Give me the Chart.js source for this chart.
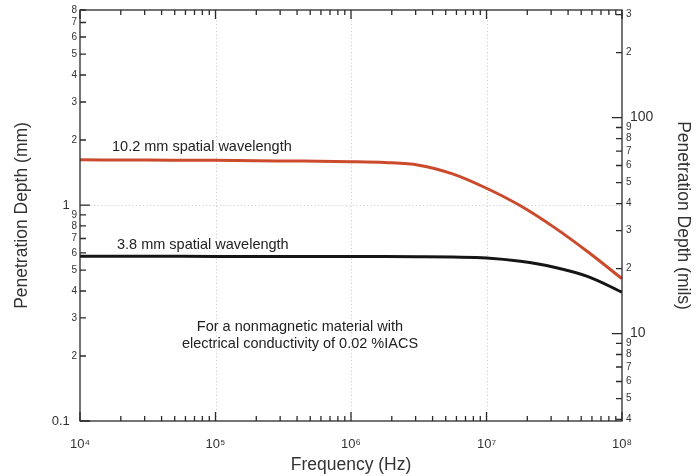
<!DOCTYPE html>
<html>
<head>
<meta charset="utf-8">
<script src="https://cdn.jsdelivr.net/npm/chart.js@4/dist/chart.umd.min.js"></script>
<style>
  html, body { margin: 0; padding: 0; background: #fff; }
  #wrap { width: 698px; height: 476px; }
</style>
</head>
<body>
<div id="wrap"><canvas id="chart" width="698" height="476"></canvas></div>
<script>
  // frequency samples (Hz) and penetration depth (mm)
  const freqHz = [1e4, 3.16e4, 1e5, 3.16e5, 1e6, 1.78e6, 3.16e6, 5.62e6, 1e7, 1.78e7, 3.16e7, 5.62e7, 1e8];
  const depth102 = [1.62, 1.615, 1.61, 1.6, 1.588, 1.573, 1.53, 1.394, 1.196, 0.992, 0.788, 0.606, 0.456];
  const depth38 = [0.579, 0.579, 0.578, 0.578, 0.577, 0.577, 0.576, 0.574, 0.569, 0.549, 0.515, 0.466, 0.395];

  const seriesNames = ["10.2 mm spatial wavelength", "3.8 mm spatial wavelength"];
  const noteLines = ["For a nonmagnetic material with", "electrical conductivity of 0.02 %IACS"];

  // axis limits and tick values
  const freqMin = 1e4, freqMax = 1e8;
  const mmMin = 0.1, mmMax = 8;
  const MILS_PER_MM = 39.37;
  const freqTicks = [];
  for (let e = 4; e < 8; e++) for (let k = 1; k <= 9; k++) freqTicks.push(k * Math.pow(10, e));
  freqTicks.push(1e8);
  const mmTicks = [0.1, 0.2, 0.3, 0.4, 0.5, 0.6, 0.7, 0.8, 0.9, 1, 2, 3, 4, 5, 6, 7, 8];
  const milsTicks = [4, 5, 6, 7, 8, 9, 10, 20, 30, 40, 50, 60, 70, 80, 90, 100, 200, 300];
  const supers = { 4: "⁴", 5: "⁵", 6: "⁶", 7: "⁷", 8: "⁸" };

  const FONT = "'Liberation Sans', Arial, Helvetica, sans-serif";
  const INK = "#2a2a2a";

  function isDecade(v) {
    const l = Math.log10(v);
    return Math.abs(l - Math.round(l)) < 1e-9;
  }

  function leadDigit(v) {
    return String(Math.round(v / Math.pow(10, Math.floor(Math.log10(v) + 1e-9))));
  }

  function setTicks(values) {
    return (scale) => { scale.ticks = values.map((v) => ({ value: v })); };
  }

  // frame, inward ticks, dotted decade grid and text notes
  const framePlugin = {
    id: "frame",
    beforeDatasetsDraw(chart) {
      const { ctx, chartArea: a, scales } = chart;
      ctx.save();
      ctx.strokeStyle = "#c3c8d2";
      ctx.lineWidth = 1;
      ctx.setLineDash([1, 2.5]);
      [1e5, 1e6, 1e7].forEach((f) => {
        const x = Math.round(scales.x.getPixelForValue(f)) + 0.5;
        ctx.beginPath(); ctx.moveTo(x, a.top); ctx.lineTo(x, a.bottom); ctx.stroke();
      });
      const y1 = Math.round(scales.y.getPixelForValue(1)) + 0.5;
      ctx.beginPath(); ctx.moveTo(a.left, y1); ctx.lineTo(a.right, y1); ctx.stroke();
      ctx.restore();
    },
    afterDatasetsDraw(chart) {
      const { ctx, chartArea: a, scales } = chart;
      ctx.save();
      ctx.strokeStyle = INK;
      ctx.lineWidth = 1.3;
      ctx.strokeRect(a.left, a.top, a.right - a.left, a.bottom - a.top);
      ctx.beginPath();
      freqTicks.forEach((f) => {
        const x = scales.x.getPixelForValue(f);
        const len = isDecade(f) ? 9 : 5;
        ctx.moveTo(x, a.bottom); ctx.lineTo(x, a.bottom - len);
        ctx.moveTo(x, a.top); ctx.lineTo(x, a.top + len);
      });
      mmTicks.forEach((v) => {
        const y = scales.y.getPixelForValue(v);
        const len = isDecade(v) ? 10 : 6;
        ctx.moveTo(a.left, y); ctx.lineTo(a.left + len, y);
      });
      milsTicks.forEach((v) => {
        const y = scales.y2.getPixelForValue(v);
        const len = isDecade(v) ? 10 : 6;
        ctx.moveTo(a.right, y); ctx.lineTo(a.right - len, y);
      });
      ctx.stroke();

      ctx.fillStyle = "#222";
      ctx.font = "14.5px " + FONT;
      ctx.textAlign = "left";
      ctx.textBaseline = "middle";
      ctx.fillText(seriesNames[0], a.left + 32, 147);
      ctx.fillText(seriesNames[1], a.left + 37, 245);
      ctx.textAlign = "center";
      ctx.fillText(noteLines[0], 300, 327);
      ctx.fillText(noteLines[1], 300, 344);
      ctx.restore();
    }
  };

  const toPoints = (ys) => freqHz.map((f, i) => ({ x: f, y: ys[i] }));

  new Chart(document.getElementById("chart"), {
    type: "line",
    data: {
      datasets: [
        {
          label: seriesNames[0],
          data: toPoints(depth102),
          borderColor: "#cc4a2c",
          borderWidth: 3,
          pointRadius: 0,
          cubicInterpolationMode: "monotone",
          yAxisID: "y",
        },
        {
          label: seriesNames[1],
          data: toPoints(depth38),
          borderColor: "#151515",
          borderWidth: 3,
          pointRadius: 0,
          cubicInterpolationMode: "monotone",
          yAxisID: "y",
        },
      ],
    },
    options: {
      responsive: false,
      animation: false,
      events: [],
      layout: { padding: { top: 10, left: 0, right: 0, bottom: 0 } },
      plugins: { legend: { display: false }, tooltip: { enabled: false } },
      scales: {
        x: {
          type: "logarithmic",
          min: freqMin,
          max: freqMax,
          afterBuildTicks: setTicks(freqTicks),
          afterFit: (s) => { s.height = 55; },
          grid: { display: false, drawTicks: false },
          border: { display: false },
          ticks: {
            autoSkip: false,
            maxRotation: 0,
            padding: 16,
            color: "#333",
            font: { family: FONT, size: 13 },
            callback: (v) => (isDecade(v) ? "10" + supers[Math.round(Math.log10(v))] : ""),
          },
          title: {
            display: true,
            text: "Frequency (Hz)",
            color: "#333",
            font: { family: FONT, size: 17.5 },
            padding: { top: 0, bottom: 0 },
          },
        },
        y: {
          type: "logarithmic",
          position: "left",
          min: mmMin,
          max: mmMax,
          afterBuildTicks: setTicks(mmTicks),
          afterFit: (s) => { s.width = 80; },
          grid: { display: false, drawTicks: false },
          border: { display: false },
          ticks: {
            autoSkip: false,
            padding: 3,
            color: "#333",
            font: (c) => ({ family: FONT, size: c.tick && isDecade(c.tick.value) ? 13 : 10 }),
            callback: (v) => (v === 0.1 ? "0.1  " : v === 1 ? "1  " : leadDigit(v)),
          },
          title: {
            display: true,
            text: "Penetration Depth (mm)",
            color: "#333",
            font: { family: FONT, size: 17.5 },
            padding: { top: 12, bottom: 0 },
          },
        },
        y2: {
          type: "logarithmic",
          position: "right",
          min: mmMin * MILS_PER_MM,
          max: mmMax * MILS_PER_MM,
          afterBuildTicks: setTicks(milsTicks),
          afterFit: (s) => { s.width = 76; },
          grid: { display: false, drawTicks: false },
          border: { display: false },
          ticks: {
            autoSkip: false,
            padding: 4,
            color: "#333",
            font: (c) => ({ family: FONT, size: c.tick && isDecade(c.tick.value) ? 14 : 10 }),
            callback: (v) => (isDecade(v) ? " " + v : leadDigit(v)),
          },
          title: {
            display: true,
            text: "Penetration Depth (mils)",
            color: "#333",
            font: { family: FONT, size: 17.5 },
            padding: { top: 5, bottom: 0 },
          },
        },
      },
    },
    plugins: [framePlugin],
  });
</script>
</body>
</html>
